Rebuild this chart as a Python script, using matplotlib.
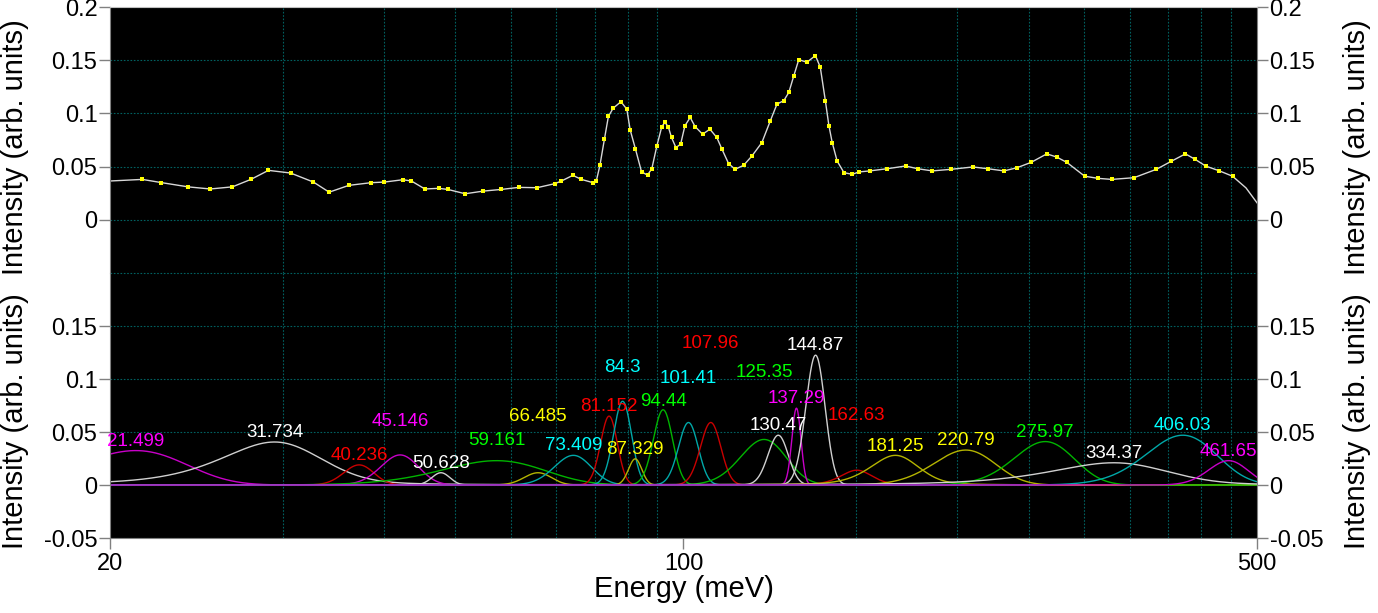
import numpy as np
import matplotlib
matplotlib.use('Agg')
import matplotlib.pyplot as plt
from matplotlib.ticker import FixedLocator, FixedFormatter, NullLocator

plt.rcParams['font.family'] = ['Liberation Sans', 'DejaVu Sans']

# measured spectrum (top panel), energy in meV
meas_e = np.array([20.0, 21.9, 23.1, 24.9, 26.5, 28.2, 29.7, 31.2, 33.2, 35.4,
                   37.0, 39.1, 41.6, 43.2, 45.5, 46.6, 48.4, 50.3, 51.6, 54.2,
                   57.0, 60.0, 63.0, 66.3, 69.7, 71.0, 73.3, 75.1, 77.6, 78.3,
                   79.1, 80.1, 81.0, 82.1, 83.9, 85.3, 86.1, 87.4, 88.9, 90.4,
                   91.5, 92.8, 94.1, 94.9, 95.8, 96.7, 97.9, 99.2, 100.4, 101.9,
                   103.3, 105.5, 107.7, 109.8, 111.4, 113.5, 115.6, 118.4, 121.2, 124.6,
                   127.6, 130.0, 132.5, 134.4, 136.3, 138.2, 141.4, 144.8, 146.8, 148.9,
                   150.4, 151.8, 153.9, 156.9, 160.6, 163.6, 168.7, 177.0, 186.5, 193.0,
                   201.1, 212.0, 225.3, 235.0, 245.9, 255.0, 265.2, 277.2, 285.0, 293.2,
                   308.3, 320.0, 332.6, 354.0, 377.0, 393.0, 409.0, 420.0, 432.8, 450.0,
                   466.8, 484.8, 500.0])
meas_i = np.array([0.0365, 0.038, 0.035, 0.031, 0.029, 0.031, 0.038, 0.0465, 0.044, 0.0355,
                   0.026, 0.0324, 0.0349, 0.0355, 0.0377, 0.0365, 0.029, 0.0296, 0.0286, 0.0245,
                   0.027, 0.0286, 0.0305, 0.0302, 0.034, 0.0365, 0.0418, 0.038, 0.0349, 0.0365,
                   0.0513, 0.0758, 0.0972, 0.105, 0.111, 0.104, 0.0846, 0.0664, 0.045, 0.0421,
                   0.0481, 0.0695, 0.0877, 0.0915, 0.0877, 0.0774, 0.0679, 0.0711, 0.0884, 0.0962,
                   0.0877, 0.0805, 0.0852, 0.0774, 0.0664, 0.0528, 0.0475, 0.0513, 0.0601, 0.0726,
                   0.0931, 0.1088, 0.112, 0.1198, 0.1355, 0.1506, 0.1481, 0.1544, 0.1434, 0.112,
                   0.0884, 0.0726, 0.0553, 0.0443, 0.0428, 0.045, 0.046, 0.048, 0.0506, 0.048,
                   0.046, 0.0475, 0.0497, 0.048, 0.046, 0.049, 0.054, 0.062, 0.059, 0.054,
                   0.041, 0.039, 0.038, 0.0396, 0.0475, 0.055, 0.062, 0.057, 0.0506, 0.046,
                   0.041, 0.030, 0.016])

# fitted components (bottom panel)
peak_center = [21.499, 31.734, 40.236, 45.146, 50.628, 59.161, 66.485, 73.409, 81.152, 84.3,
               87.329, 94.44, 101.41, 107.96, 125.35, 130.47, 137.29, 144.87, 162.63, 181.25,
               220.79, 275.97, 334.37, 406.03, 461.65]
peak_amp = [0.0325, 0.0406, 0.019, 0.0284, 0.0116, 0.023, 0.0116, 0.028, 0.065, 0.079,
            0.0247, 0.071, 0.059, 0.059, 0.043, 0.047, 0.0725, 0.1225, 0.014, 0.028,
            0.033, 0.041, 0.021, 0.047, 0.023]
peak_fwhm = [7.6, 10.7, 4.0, 5.6, 3.0, 20.0, 6.0, 9.0, 4.5, 5.0,
             3.8, 6.0, 6.6, 7.3, 19.0, 8.7, 4.1, 9.2, 17.0, 29.0,
             45.0, 55.0, 130.0, 95.0, 60.0]
peak_eta = [0, 0.3, 0, 0, 0, 0, 0, 0, 0, 0,
            0, 0, 0, 0, 0, 0, 0, 0, 0.3, 0.3,
            0, 0, 0.3, 0, 0]
peak_color = ['m', 'w', 'r', 'm', 'w', 'g', 'y', 'c', 'r', 'c',
              'y', 'g', 'c', 'r', 'g', 'w', 'm', 'w', 'r', 'y',
              'y', 'g', 'w', 'c', 'm']
label_y = [0.0366, 0.0453, 0.024, 0.0553, 0.0163, 0.038, 0.060, 0.0334, 0.070, 0.107,
           0.0294, 0.075, 0.0966, 0.1297, 0.102, 0.052, 0.077, 0.127, 0.0616, 0.032,
           0.038, 0.045, 0.0256, 0.052, 0.0278]

line_col = {'m': '#c800c8', 'w': '#d0d0d0', 'r': '#c80000', 'g': '#00b400',
            'y': '#b4b400', 'c': '#00a8a8'}
text_col = {'m': '#ff00ff', 'w': '#ffffff', 'r': '#ff0000', 'g': '#00ff00',
            'y': '#ffff00', 'c': '#00ffff'}
grid_col = '#006060'


def pseudo_voigt(e, c, a, w, eta):
    g = np.exp(-4 * np.log(2) * ((e - c) / w) ** 2)
    lor = 1.0 / (1.0 + 4 * ((e - c) / w) ** 2)
    return a * ((1 - eta) * g + eta * lor)


fig = plt.figure(figsize=(13.78, 6.13), dpi=100)
ax_top = fig.add_axes([0.0798, 0.5546, 0.8324, 0.4339])
ax_bot = fig.add_axes([0.0798, 0.1223, 0.8324, 0.4323], sharex=ax_top)

# grid positions: same sub-pattern in each interval 20-100 and 100-500
sub = np.log10(np.arange(2, 10))
vgrid = np.concatenate([20 * 5 ** sub, 100 * 5 ** sub])

for ax in (ax_top, ax_bot):
    ax.set_facecolor('black')
    ax.set_xscale('log')
    ax.set_xlim(20, 500)
    ax.set_ylim(-0.05, 0.2)
    for yv in [-0.05, 0, 0.05, 0.1, 0.15, 0.2]:
        ax.axhline(yv, color=grid_col, lw=0.8, ls=(0, (1.5, 1.5)), zorder=0)
    for xv in vgrid:
        ax.axvline(xv, color=grid_col, lw=0.8, ls=(0, (1.5, 1.5)), zorder=0)
    for side in ('left', 'right', 'bottom', 'top'):
        ax.spines[side].set_color('#808080')
    ax.tick_params(axis='y', direction='out', length=8, width=1, color='#808080',
                   left=True, right=True, labelleft=True, labelright=True,
                   labelsize=17, pad=1)
    ax.xaxis.set_minor_locator(NullLocator())

ax_top.spines['bottom'].set_visible(False)
ax_top.spines['top'].set_color('#c0c0c0')
ax_bot.spines['top'].set_visible(False)

top_ticks = [0, 0.05, 0.1, 0.15, 0.2]
bot_ticks = [-0.05, 0, 0.05, 0.1, 0.15]
ax_top.yaxis.set_major_locator(FixedLocator(top_ticks))
ax_top.yaxis.set_major_formatter(FixedFormatter(['0', '0.05', '0.1', '0.15', '0.2']))
ax_bot.yaxis.set_major_locator(FixedLocator(bot_ticks))
ax_bot.yaxis.set_major_formatter(FixedFormatter(['-0.05', '0', '0.05', '0.1', '0.15']))

ax_bot.xaxis.set_major_locator(FixedLocator([20, 100, 500]))
ax_bot.xaxis.set_major_formatter(FixedFormatter(['20', '100', '500']))
ax_bot.xaxis.set_minor_locator(NullLocator())
ax_top.tick_params(axis='x', bottom=False, labelbottom=False)
ax_bot.tick_params(axis='x', direction='out', length=8, width=1, color='#808080',
                   labelsize=17, pad=3)

# top panel: fit line + data dots
ax_top.plot(meas_e, meas_i, color='#d8d8d8', lw=1, zorder=2)
dots = (meas_e > 21) & (meas_e < 470)
ax_top.plot(meas_e[dots], meas_i[dots], 's', color='#ffff00', ms=2.5, mew=0, zorder=3)

# bottom panel: components
e = np.geomspace(20, 500, 3000)
ax_bot.plot(e, np.zeros_like(e), color='white', lw=1.2, zorder=1)
for c, a, w, eta, col, ly in zip(peak_center, peak_amp, peak_fwhm, peak_eta,
                                 peak_color, label_y):
    ax_bot.plot(e, pseudo_voigt(e, c, a, w, eta), color=line_col[col], lw=1, zorder=2)
    ax_bot.text(c, ly, str(c), color=text_col[col], fontsize=13.5,
                ha='center', va='baseline', zorder=4)

# axis labels
ylab = 'Intensity (arb. units)'
ax_top.set_ylabel(ylab, fontsize=21)
ax_top.yaxis.set_label_coords(-0.071, 0.474)
ax_bot.set_ylabel(ylab, fontsize=21)
ax_bot.yaxis.set_label_coords(-0.071, 0.442)
ax_top.text(1.087, 0.474, ylab, transform=ax_top.transAxes, rotation=90,
            fontsize=21, ha='center', va='center')
ax_bot.text(1.087, 0.442, ylab, transform=ax_bot.transAxes, rotation=90,
            fontsize=21, ha='center', va='center')
ax_bot.set_xlabel('Energy (meV)', fontsize=21, labelpad=0)

plt.savefig('out.png', dpi=100)
